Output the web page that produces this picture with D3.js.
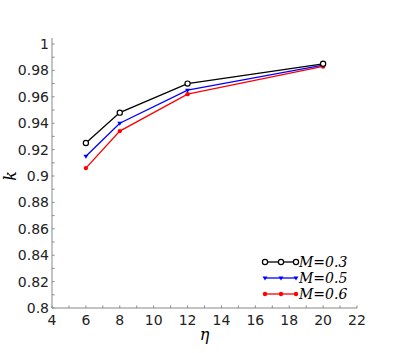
<!DOCTYPE html>
<html>
<head>
<meta charset="utf-8">
<script src="https://cdn.jsdelivr.net/npm/d3@7"></script>
<style>
  body { margin: 0; background: #fff; }
  svg { display: block; }
</style>
</head>
<body>
<div id="chart"></div>
<script>
const etaValues = [6, 8, 12, 20];
const kM03 = [0.925, 0.948, 0.970, 0.985];
const kM05 = [0.915, 0.940, 0.965, 0.984];
const kM06 = [0.906, 0.934, 0.962, 0.983];
const seriesNames = ["M=0.3", "M=0.5", "M=0.6"];
const xTicks = [4, 6, 8, 10, 12, 14, 16, 18, 20, 22];
const yTicks = [0.8, 0.82, 0.84, 0.86, 0.88, 0.9, 0.92, 0.94, 0.96, 0.98, 1];

const width = 407, height = 353;
const margin = { top: 44, right: 50, bottom: 45, left: 52 };

const svg = d3.select("#chart")
    .append("svg")
    .attr("width", width)
    .attr("height", height);

const x = d3.scaleLinear().domain([4, 22]).range([margin.left, width - margin.right]);
const y = d3.scaleLinear().domain([0.8, 1]).range([height - margin.bottom, margin.top]);

// minor ticks
const minorX = d3.range(4, 22.01, 1);
const minorY = d3.range(0.8, 1.001, 0.01);

const xAxis = svg.append("g")
    .attr("transform", `translate(0,${height - margin.bottom})`);
xAxis.append("line")
    .attr("x1", x(4)).attr("x2", x(22))
    .attr("stroke", "#888").attr("stroke-width", 1);
xAxis.selectAll(".minor")
    .data(minorX)
    .enter().append("line")
    .attr("x1", d => x(d)).attr("x2", d => x(d))
    .attr("y1", 0).attr("y2", -2.5)
    .attr("stroke", "#888");
xAxis.selectAll(".lbl")
    .data(xTicks)
    .enter().append("text")
    .attr("x", d => x(d))
    .attr("y", 17)
    .attr("text-anchor", "middle")
    .style("font-family", "DejaVu Sans")
    .style("font-size", "14px")
    .attr("fill", "#222")
    .text(d => d);

const yAxis = svg.append("g")
    .attr("transform", `translate(${margin.left},0)`);
yAxis.append("line")
    .attr("y1", y(0.8)).attr("y2", y(1) - 6)
    .attr("stroke", "#888").attr("stroke-width", 1);
yAxis.selectAll(".minor")
    .data(minorY)
    .enter().append("line")
    .attr("y1", d => y(d)).attr("y2", d => y(d))
    .attr("x1", 0).attr("x2", 2.5)
    .attr("stroke", "#888");
yAxis.selectAll(".lbl")
    .data(yTicks)
    .enter().append("text")
    .attr("x", -3)
    .attr("y", d => y(d) + 5)
    .attr("text-anchor", "end")
    .style("font-family", "DejaVu Sans")
    .style("font-size", "14px")
    .attr("fill", "#222")
    .text(d => d3.format("")(+d.toFixed(2)));

// axis titles
svg.append("text")
    .attr("x", x(13))
    .attr("y", height - 13)
    .attr("text-anchor", "middle")
    .style("font-family", "DejaVu Serif")
    .style("font-style", "italic")
    .style("font-size", "16px")
    .text("η");

svg.append("text")
    .attr("transform", `translate(16,${y(0.9)}) rotate(-90)`)
    .attr("text-anchor", "middle")
    .style("font-family", "DejaVu Serif")
    .style("font-style", "italic")
    .style("font-size", "16px")
    .text("k");

const series = [
    { name: seriesNames[0], values: kM03, color: "#000", marker: "open" },
    { name: seriesNames[1], values: kM05, color: "#00f", marker: "tri" },
    { name: seriesNames[2], values: kM06, color: "#f00", marker: "dot" }
];

const line = d3.line()
    .x(d => x(d[0]))
    .y(d => y(d[1]));

const drawMarker = function(g, mx, my, s){
    if (s.marker === "open"){
        g.append("circle").attr("cx", mx).attr("cy", my).attr("r", 2.6)
            .attr("fill", "#fff").attr("stroke", s.color).attr("stroke-width", 1.2);
    } else if (s.marker === "tri"){
        g.append("path")
            .attr("d", `M${mx - 2.5},${my - 1.5}L${mx + 2.5},${my - 1.5}L${mx},${my + 2.5}Z`)
            .attr("fill", s.color);
    } else {
        g.append("circle").attr("cx", mx).attr("cy", my).attr("r", 2.2)
            .attr("fill", s.color);
    }
}

// draw in reverse so black on top
series.slice().reverse().forEach(s => {
    const pts = etaValues.map((e, i) => [e, s.values[i]]);
    const g = svg.append("g");
    g.append("path")
        .attr("d", line(pts))
        .attr("fill", "none")
        .attr("stroke", s.color)
        .attr("stroke-width", 1.3);
    pts.forEach(p => drawMarker(g, x(p[0]), y(p[1]), s));
});

// legend
const legend = svg.append("g");
series.forEach((s, i) => {
    const ly = 262 + i * 16;
    legend.append("line")
        .attr("x1", 265).attr("x2", 297)
        .attr("y1", ly).attr("y2", ly)
        .attr("stroke", s.color).attr("stroke-width", 1.3);
    [265, 281, 296].forEach(mx => drawMarker(legend, mx, ly, s));
    legend.append("text")
        .attr("x", 299)
        .attr("y", ly + 5)
        .style("font-family", "DejaVu Serif")
        .style("font-style", "italic")
        .style("font-size", "14px")
        .attr("fill", "#000")
        .text(s.name);
});
</script>
</body>
</html>
